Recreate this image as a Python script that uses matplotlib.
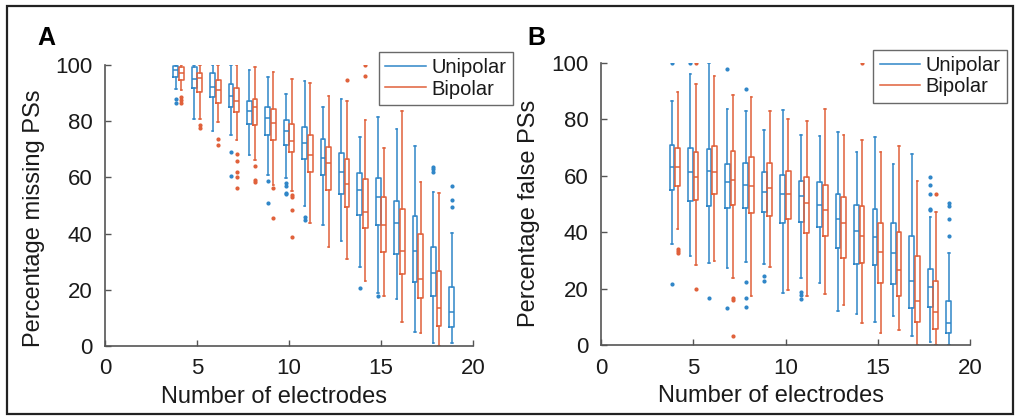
import matplotlib
matplotlib.use("Agg")
import matplotlib.pyplot as plt
from matplotlib.patches import Rectangle

plt.rcParams['font.family'] = ['Liberation Sans', 'DejaVu Sans']

electrodes = list(range(4, 20))

# Panel A - percentage missing PSs
a_uni_hi = [100, 100, 100, 100, 98.2, 95.6, 89.8, 94.4, 84.9, 87.8, 74.2, 81.4, 77.1, 71.2, 54.7, 40.3]
a_uni_q3 = [99.8, 99.2, 97.0, 93.2, 87.3, 85.2, 80.4, 77.8, 73.5, 68.8, 61.6, 59.7, 51.7, 46.4, 35.1, 20.9]
a_uni_med = [98.2, 94.9, 92.0, 89.0, 83.7, 81.0, 76.6, 72.1, 66.8, 62.0, 55.5, 52.9, 43.9, 33.9, 26.1, 12.2]
a_uni_q1 = [95.8, 91.7, 88.5, 84.9, 79.0, 75.1, 71.5, 66.4, 60.9, 54.1, 46.6, 43.1, 32.7, 22.9, 17.9, 6.7]
a_uni_lo = [91.3, 80.8, 76.5, 75.1, 68.0, 60.9, 59.7, 49.8, 43.1, 37.4, 28.2, 19.0, 16.6, 5.1, 1.0, 1.0]
a_uni_out = {4: [87.8, 86.4], 7: [69.1, 60.6], 9: [58.8, 50.8], 10: [58.1, 56.9, 54.6, 54.1],
             11: [46.0, 44.8], 14: [20.5], 15: [17.8], 18: [63.6, 62.9, 62.0], 19: [56.9, 52.0, 49.4]}

a_bi_hi = [100, 100, 100, 100, 99.2, 97.6, 94.9, 93.7, 89.0, 87.3, 80.6, 70.3, 83.7, 58.5, 54.6]
a_bi_q3 = [99.4, 97.3, 94.7, 91.7, 87.8, 84.2, 78.9, 75.1, 70.7, 66.4, 59.3, 52.9, 48.8, 39.8, 26.7]
a_bi_med = [97.0, 95.3, 91.1, 87.3, 84.9, 79.5, 73.1, 68.0, 65.2, 57.5, 47.8, 43.1, 33.9, 23.7, 13.6]
a_bi_q1 = [94.7, 90.5, 86.6, 83.4, 78.6, 73.4, 68.9, 62.0, 55.5, 49.6, 41.9, 33.6, 25.6, 17.0, 7.1]
a_bi_lo = [91.1, 80.8, 79.6, 73.3, 66.2, 57.3, 55.2, 43.9, 35.3, 30.8, 23.2, 17.8, 8.6, 4.7, 0.0]
a_bi_out = {4: [88.7, 87.5, 86.4], 5: [78.6, 77.5], 6: [73.5, 71.5], 7: [68.2, 65.8, 61.8, 60.0, 56.1],
            8: [64.1, 59.1, 58.5], 9: [56.1, 45.4], 10: [53.7, 53.1, 48.4, 38.7], 13: [94.7],
            14: [100, 96.1]}

# Panel B - percentage false PSs
b_uni_hi = [86.7, 96.1, 100, 83.7, 83.1, 76.3, 83.4, 74.6, 74.0, 75.4, 68.3, 73.6, 64.3, 67.7, 45.5, 32.8]
b_uni_q3 = [71.0, 70.0, 69.5, 64.1, 64.5, 61.2, 60.3, 58.2, 57.8, 53.5, 49.7, 48.2, 43.4, 38.7, 26.9, 15.7]
b_uni_med = [63.1, 61.2, 61.8, 57.7, 56.8, 54.4, 53.6, 52.7, 49.7, 44.6, 40.5, 38.4, 32.8, 22.7, 20.7, 7.7]
b_uni_q1 = [54.8, 51.2, 49.3, 48.5, 48.5, 47.3, 43.2, 43.6, 41.8, 34.3, 28.8, 28.2, 21.7, 13.0, 13.4, 4.1]
b_uni_lo = [35.7, 31.6, 29.0, 27.2, 29.6, 28.6, 18.6, 23.9, 21.9, 12.2, 11.0, 8.3, 10.3, 3.3, 1.2, 0.0]
b_uni_out = {4: [100, 21.5], 5: [100], 6: [16.8], 7: [98.0, 13.2], 8: [90.8, 22.3, 16.8, 13.4],
             9: [24.5, 22.8], 11: [18.7, 17.8, 16.2], 18: [59.5, 56.8, 53.5, 48.3, 47.7],
             19: [50.3, 49.4, 44.6, 38.7]}

b_bi_hi = [89.6, 92.5, 95.5, 88.5, 88.1, 83.1, 80.2, 79.6, 83.7, 74.6, 72.8, 68.3, 70.4, 58.2, 47.0]
b_bi_q3 = [69.8, 68.6, 70.6, 68.9, 66.8, 64.5, 61.8, 59.4, 56.6, 52.4, 49.4, 43.2, 40.2, 31.4, 22.8]
b_bi_med = [63.1, 59.5, 61.2, 58.6, 56.4, 55.8, 53.5, 50.5, 47.7, 43.2, 38.7, 32.9, 26.6, 15.7, 11.6]
b_bi_q1 = [56.4, 51.5, 53.6, 49.7, 46.8, 45.9, 44.7, 39.7, 38.7, 30.8, 29.2, 21.9, 17.4, 8.3, 5.6]
b_bi_lo = [41.1, 28.4, 29.9, 23.7, 17.4, 27.8, 19.5, 17.4, 18.0, 14.2, 7.7, 4.4, 5.3, 0.0, 0.0]
b_bi_out = {4: [34.1, 33.5, 32.8], 5: [100, 19.9], 7: [16.6, 16.0, 3.2], 14: [100], 18: [53.5]}

c_uni = '#2f86c8'
c_bi = '#e0603a'
spine_c = '#555555'
txt_c = '#1a1a1a'


def stats(lo, q1, med, q3, hi, out):
    res = []
    for i in range(len(med)):
        e = electrodes[i]
        res.append(dict(whislo=lo[i], q1=q1[i], med=med[i], q3=q3[i], whishi=hi[i],
                        fliers=out.get(e, [])))
    return res


def draw(ax, st, offset, col):
    pos = [electrodes[i] + offset for i in range(len(st))]
    lp = dict(color=col, linewidth=1.1)
    r = ax.bxp(st, positions=pos, widths=0.26, capwidths=0.09, manage_ticks=False,
               boxprops=lp, whiskerprops=lp, capprops=lp, medianprops=lp,
               flierprops=dict(marker='.', markersize=4, markerfacecolor=col,
                               markeredgecolor=col, linestyle='none'))
    return r['boxes'][0]


fig = plt.figure(figsize=(10.2, 4.2), dpi=100)
fig.patches.append(Rectangle((7 / 1020, 6 / 420), 1006 / 1020, 408 / 420, transform=fig.transFigure,
                             fill=False, edgecolor='#222222', linewidth=1.6))

panels = [
    dict(rect=[105 / 1020, 74 / 420, 368 / 1020, 281 / 420], label='A', lx=37,
         ylab='Percentage missing PSs', ylx=-0.163, yly=0.455, xlx=0.458,
         uni=stats(a_uni_lo, a_uni_q1, a_uni_med, a_uni_q3, a_uni_hi, a_uni_out),
         bi=stats(a_bi_lo, a_bi_q1, a_bi_med, a_bi_q3, a_bi_hi, a_bi_out), legx=1.108),
    dict(rect=[601 / 1020, 75 / 420, 369 / 1020, 282 / 420], label='B', lx=527,
         ylab='Percentage false PSs', ylx=-0.165, yly=0.468, xlx=0.46,
         uni=stats(b_uni_lo, b_uni_q1, b_uni_med, b_uni_q3, b_uni_hi, b_uni_out),
         bi=stats(b_bi_lo, b_bi_q1, b_bi_med, b_bi_q3, b_bi_hi, b_bi_out), legx=1.100),
]

for p in panels:
    ax = fig.add_axes(p['rect'])
    h1 = draw(ax, p['uni'], -0.15, c_uni)
    h2 = draw(ax, p['bi'], 0.15, c_bi)
    ax.set_xlim(0, 20)
    ax.set_ylim(0, 100)
    ax.set_xticks([0, 5, 10, 15, 20])
    ax.set_yticks([0, 20, 40, 60, 80, 100])
    for s in ['top', 'right']:
        ax.spines[s].set_visible(False)
    for s in ['left', 'bottom']:
        ax.spines[s].set_color(spine_c)
        ax.spines[s].set_linewidth(1.2)
    ax.tick_params(direction='in', length=4, width=1, color=spine_c, labelsize=16,
                   labelcolor=txt_c, pad=9)
    ax.set_xlabel('Number of electrodes', fontsize=17, color=txt_c)
    ax.xaxis.set_label_coords(p['xlx'], -0.142)
    ax.set_ylabel(p['ylab'], fontsize=17, color=txt_c)
    ax.yaxis.set_label_coords(p['ylx'], p['yly'])
    leg = ax.legend([h1, h2], ['Unipolar', 'Bipolar'], loc='upper right',
                    bbox_to_anchor=(p['legx'], 1.046), fontsize=14.5, frameon=True,
                    fancybox=False, handlelength=2.0, handletextpad=0.3,
                    labelspacing=0.12, borderpad=0.3, borderaxespad=0)
    leg.get_frame().set_edgecolor('#444444')
    leg.get_frame().set_linewidth(1.0)
    for t in leg.get_texts():
        t.set_color(txt_c)
    fig.text(p['lx'] / 1020, (420 - 45) / 420, p['label'], fontsize=18, fontweight='bold',
             color='black', ha='left', va='baseline')

fig.savefig('out.png', dpi=100)
